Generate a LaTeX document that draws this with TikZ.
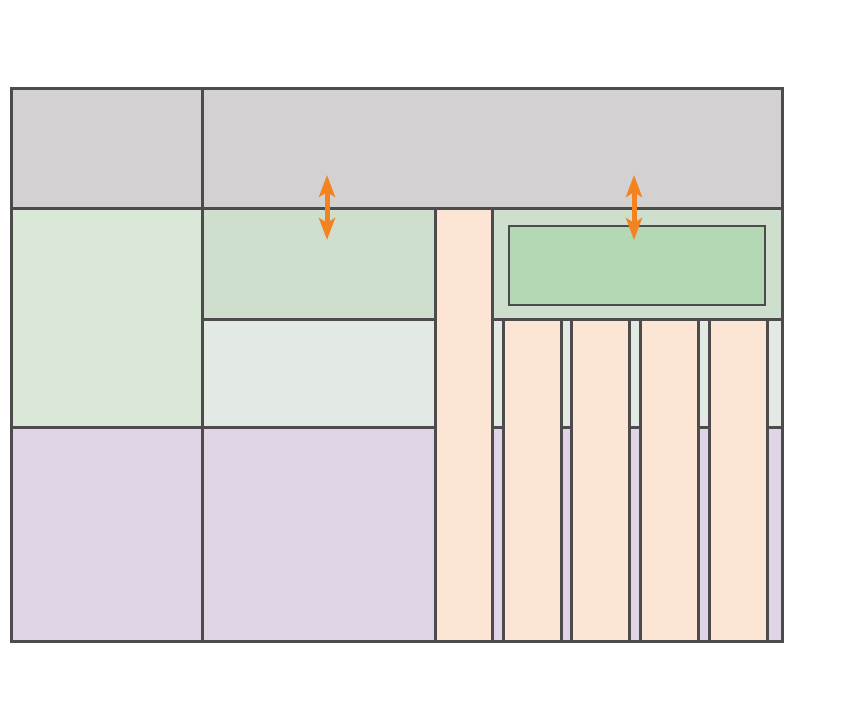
\documentclass[tikz,border=0pt]{standalone}
\usetikzlibrary{arrows.meta}
\definecolor{strokec}{HTML}{4D4B4C}
\definecolor{grayc}{HTML}{D3D1D2}
\definecolor{lgreen}{HTML}{DAE8D8}
\definecolor{mgreen}{HTML}{CEDFCD}
\definecolor{pale}{HTML}{E3EAE3}
\definecolor{purp}{HTML}{E0D5E6}
\definecolor{peach}{HTML}{FDE5D5}
\definecolor{igreen}{HTML}{B4D8B3}
\definecolor{orangec}{HTML}{F58220}
\tikzset{
  box/.style={draw=strokec,line width=3pt},
  thinbox/.style={draw=strokec,line width=2.5pt},
  dblarrow/.style={draw=orangec,line width=5pt,{Stealth[length=22pt,width=16pt,inset=5pt]}-{Stealth[length=22pt,width=16pt,inset=5pt]}}
}
\begin{document}
\begin{tikzpicture}[x=1pt,y=-1pt]
\useasboundingbox (0,0) rectangle (849,722);
% top row
\path[box,fill=grayc] (11,89) rectangle (202,209);
\path[box,fill=grayc] (202,89) rectangle (782,209);
% left column
\path[box,fill=lgreen] (11,209) rectangle (202,427);
\path[box,fill=purp] (11,427) rectangle (202,641);
% middle column
\path[box,fill=mgreen] (202,209) rectangle (435,319);
\path[box,fill=pale] (202,319) rectangle (435,427);
\path[box,fill=purp] (202,427) rectangle (435,641);
% right area
\path[box,fill=mgreen] (492,209) rectangle (782,319);
\path[thinbox,fill=igreen] (509,226) rectangle (765,305);
\path[box,fill=pale] (492,319) rectangle (782,427);
\path[box,fill=purp] (492,427) rectangle (782,641);
% peach columns
\path[box,fill=peach] (435,209) rectangle (492,641);
\foreach \xa/\xb in {503/561,571/629,640/698,709/767}{
  \path[box,fill=peach] (\xa,319) rectangle (\xb,641);
}
% arrows
\coordinate (a1t) at (327,175);
\coordinate (a1b) at (327,240);
\coordinate (a2t) at (634,175);
\coordinate (a2b) at (634,240);
\draw[dblarrow] (a1t) -- (a1b);
\draw[dblarrow] (a2t) -- (a2b);
\end{tikzpicture}
\end{document}
